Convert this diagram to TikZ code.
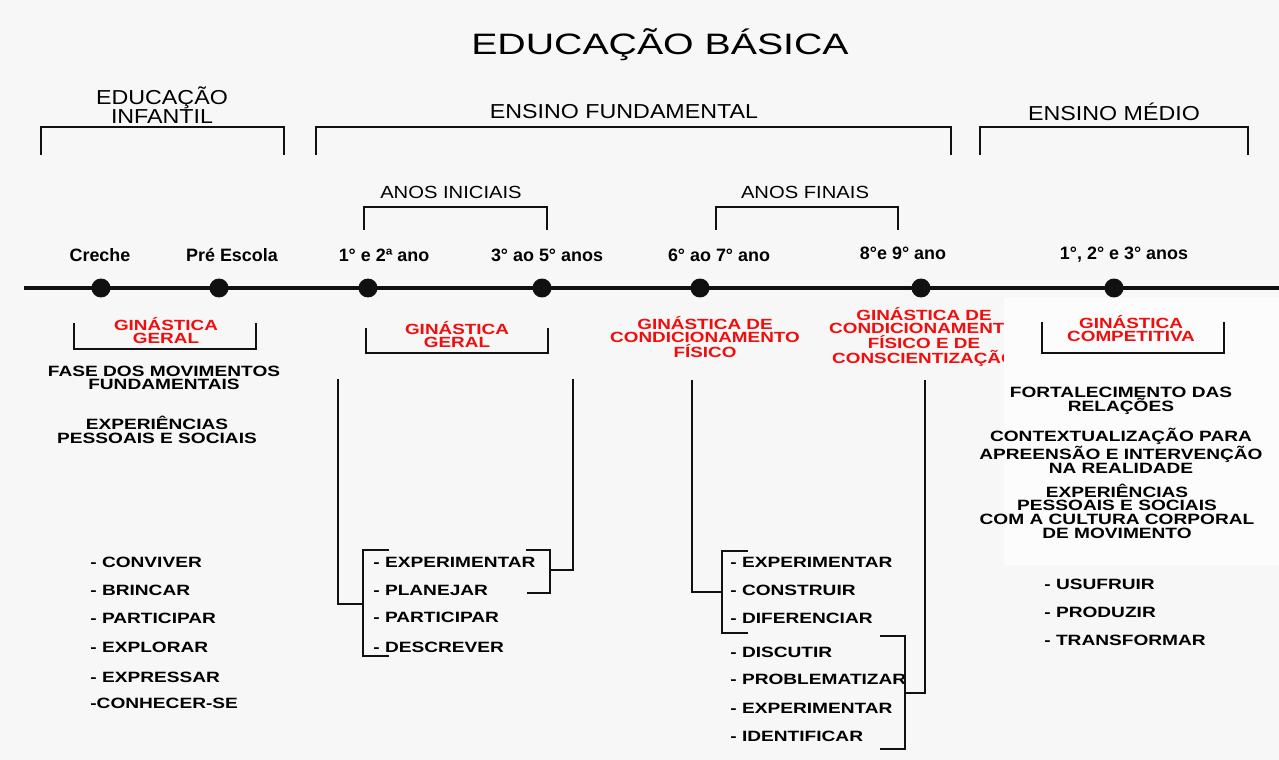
\documentclass[tikz,border=0pt]{standalone}
\usepackage{fontspec}
\setmainfont{Liberation Sans}
\newfontfamily\titlefont[FakeStretch=1.33]{Liberation Sans}
\newfontfamily\headfont[FakeStretch=1.15]{Liberation Sans}
\newfontfamily\widefont[FakeStretch=1.28]{Liberation Sans}
\usetikzlibrary{calc}
\definecolor{color_edu_bg}{HTML}{F7F7F7}
\definecolor{color_edu_panel}{HTML}{FCFCFC}
\definecolor{color_edu_ink}{HTML}{111111}
\definecolor{color_edu_gym}{HTML}{F20D0D}
\def\edulinewidth{1.1pt}
\def\edutimelinewidth{2.8pt}
\def\edudotsize{0.38cm}
% bracket with its legs going down: (left, right, top, bottom)
\def\edubracketdown(#1,#2,#3,#4){
    \draw[color_edu_ink,line width=\edulinewidth] (#1,#4) -- (#1,#3) -- (#2,#3) -- (#2,#4);
}
% bracket with its legs going up
\def\edubracketup(#1,#2,#3,#4){
    \draw[color_edu_ink,line width=\edulinewidth] (#1,#3) -- (#1,#4) -- (#2,#4) -- (#2,#3);
}
\tikzset{
    titlelabel/.style={font=\titlefont\fontsize{16.8}{18}\selectfont},
    stagelabel/.style={font=\headfont\fontsize{11.5}{11}\selectfont,align=center,inner sep=0},
    phaselabel/.style={font=\headfont\fontsize{10}{12}\selectfont,inner sep=0},
    gradelabel/.style={font=\bfseries\fontsize{10.2}{12}\selectfont,inner sep=0},
    yeardot/.style={circle,fill=color_edu_ink,minimum size=\edudotsize,inner sep=0},
    gymlabel/.style={font=\widefont\bfseries\fontsize{8.4}{7.4}\selectfont,text=color_edu_gym,align=center,inner sep=0},
    aimtext/.style={font=\widefont\bfseries\fontsize{8.5}{7.8}\selectfont,align=center,inner sep=0},
    verbitem/.style={font=\widefont\bfseries\fontsize{8.5}{10}\selectfont,anchor=west,inner sep=0},
    link/.style={color_edu_ink,line width=\edulinewidth}
}

\begin{document}
\begin{tikzpicture}[x=0.02cm,y=-0.02cm]
        \fill[color_edu_bg] (0,0) rectangle (1279,760);
        \useasboundingbox (0,0) rectangle (1279,760);
        % stages
        \node[titlelabel] (title) at (660,45) {EDUCAÇÃO BÁSICA};
        \node[stagelabel] (infantil) at (162,105) {EDUCAÇÃO\\INFANTIL};
        \node[stagelabel] (fundamental) at (624,112) {ENSINO FUNDAMENTAL};
        \node[stagelabel] (medio) at (1114,112) {ENSINO MÉDIO};
        \edubracketdown(41,284,127,155)
        \edubracketdown(316,951,127,155)
        \edubracketdown(980,1248,127,155)
        \node[phaselabel] (iniciais) at (451,192) {ANOS INICIAIS};
        \node[phaselabel] (finais) at (805,192) {ANOS FINAIS};
        \edubracketdown(364,547,207,230)
        \edubracketdown(716,898,207,230)
        % the time line
        \coordinate (line start) at (24,288);
        \coordinate (line end) at (1279,288);
        \draw[color_edu_ink,line width=\edutimelinewidth] (line start) -- (line end);
        \foreach \name/\x in {creche/101,preescola/219,ano12/368,ano35/542,ano67/700,ano89/921,ano123/1114}
            \node[yeardot] (\name) at (\x,288) {};
        \node[gradelabel] (creche label) at (100,255) {Creche};
        \node[gradelabel] (preescola label) at (232,255) {Pré Escola};
        \node[gradelabel] (ano12 label) at (384,255) {1° e 2ª ano};
        \node[gradelabel] (ano35 label) at (547,255) {3° ao 5° anos};
        \node[gradelabel] (ano67 label) at (719,255) {6° ao 7° ano};
        \node[gradelabel] (ano89 label) at (903,253) {8°e 9° ano};
        \node[gradelabel] (ano123 label) at (1124,255) {1°, 2° e 3° anos};
        % gymnastics of each phase
        \node[gymlabel] (gym infantil) at (166,331) {GINÁSTICA\\GERAL};
        \edubracketup(74,256,323,349)
        \node[gymlabel] (gym iniciais) at (457,335) {GINÁSTICA\\GERAL};
        \edubracketup(366,548,328,353)
        \node[gymlabel] (gym finais a) at (705,337) {GINÁSTICA DE\\CONDICIONAMENTO\\FÍSICO};
        \node[gymlabel] (gym finais b) at (924,337) {GINÁSTICA DE\\CONDICIONAMENTO\\FÍSICO E DE\\CONSCIENTIZAÇÃO};
        \fill[color_edu_panel] (1004,298) rectangle (1279,565);
        \node[gymlabel] (gym medio) at (1131,329) {GINÁSTICA\\COMPETITIVA};
        \edubracketup(1042,1224,322,353)
        % educação infantil
        \node[aimtext] (fase) at (164,378) {FASE DOS MOVIMENTOS\\FUNDAMENTAIS};
        \node[aimtext] (exp infantil) at (157,430) {EXPERIÊNCIAS\\PESSOAIS E SOCIAIS};
        \foreach \word/\y in {{- CONVIVER}/562,{- BRINCAR}/590,{- PARTICIPAR}/618,{- EXPLORAR}/647,{- EXPRESSAR}/677,{-CONHECER-SE}/703}
            \node[verbitem] (infantil \y) at (90,\y) {\word};
        % anos iniciais
        \foreach \word/\y in {EXPERIMENTAR/562,PLANEJAR/590,PARTICIPAR/617,DESCREVER/647}
            \node[verbitem] (iniciais \y) at (373,\y) {- \word};
        \draw[link] (389,550) -- (363,550) -- (363,656) -- (389,656);
        \draw[link] (526,550) -- (550,550) -- (550,593) -- (527,593);
        \coordinate (iniciais left top) at (338,379);
        \coordinate (iniciais left join) at (363,604);
        \coordinate (iniciais right top) at (573,379);
        \coordinate (iniciais right join) at (550,570);
        \draw[link] (iniciais left top) |- (iniciais left join);
        \draw[link] (iniciais right top) |- (iniciais right join);
        % anos finais
        \foreach \word/\y in {EXPERIMENTAR/562,CONSTRUIR/590,DIFERENCIAR/618,DISCUTIR/652,PROBLEMATIZAR/679,EXPERIMENTAR/708,IDENTIFICAR/736}
            \node[verbitem] (finais \y) at (730,\y) {- \word};
        \draw[link] (748,551) -- (722,551) -- (722,633) -- (748,633);
        \draw[link] (880,636) -- (905,636) -- (905,749) -- (880,749);
        \coordinate (finais left top) at (692,380);
        \coordinate (finais left join) at (722,592);
        \coordinate (finais right top) at (925,380);
        \coordinate (finais right join) at (905,693);
        \draw[link] (finais left top) |- (finais left join);
        \draw[link] (finais right top) |- (finais right join);
        % ensino médio
        \node[aimtext] (fortalecimento) at (1121,401) {FORTALECIMENTO DAS\\RELAÇÕES};
        \node[aimtext] (contexto) at (1121,451) {CONTEXTUALIZAÇÃO PARA\\APREENSÃO E INTERVENÇÃO\\NA REALIDADE};
        \node[aimtext] (exp medio) at (1117,511) {EXPERIÊNCIAS\\PESSOAIS E SOCIAIS\\COM A CULTURA CORPORAL\\DE MOVIMENTO};
        \foreach \word/\y in {USUFRUIR/584,PRODUZIR/612,TRANSFORMAR/640}
            \node[verbitem] (medio \y) at (1044,\y) {- \word};
\end{tikzpicture}
\end{document}
